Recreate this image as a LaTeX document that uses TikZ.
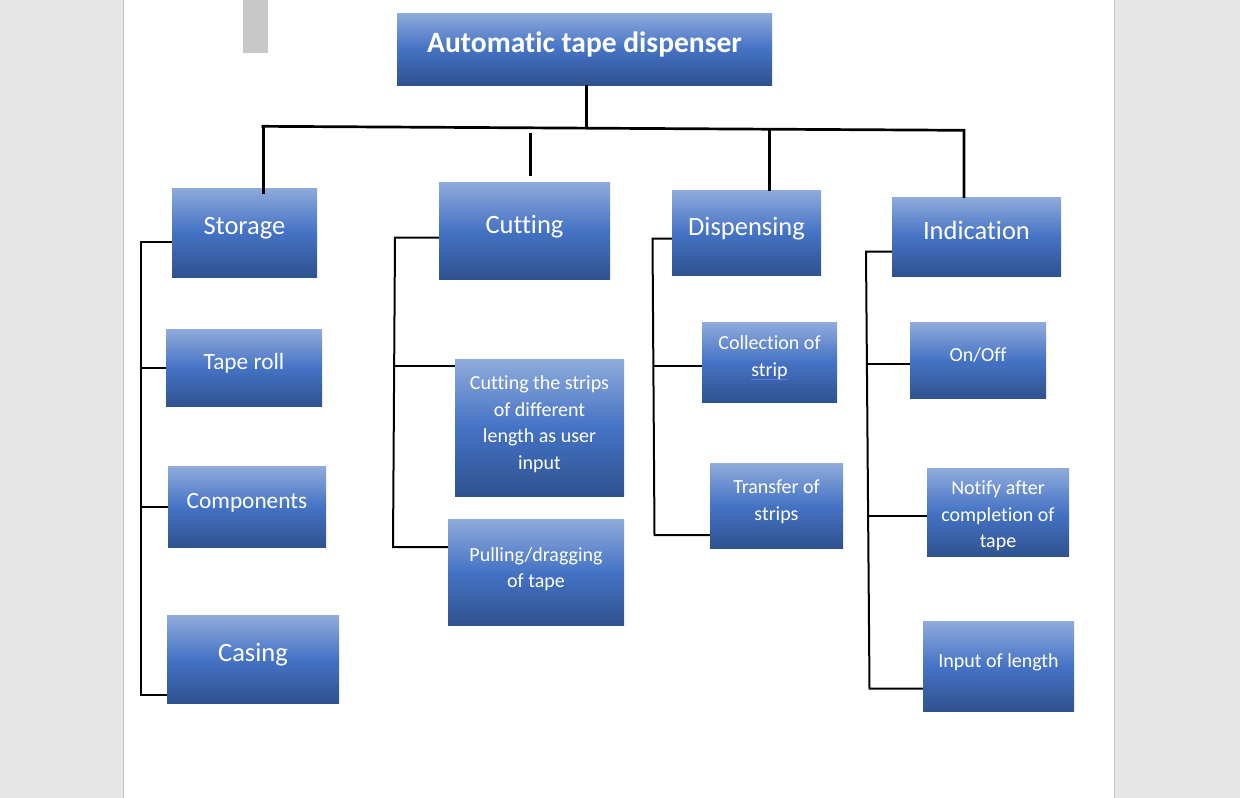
\documentclass[tikz,border=0pt]{standalone}
\usepackage{fontspec}
\setmainfont{Carlito}[Ligatures=NoCommon]

\definecolor{bleuHaut}{HTML}{8EAADB}
\definecolor{bleuMilieu}{HTML}{4472C4}
\definecolor{bleuBas}{HTML}{2F528F}
\definecolor{fondGris}{HTML}{E6E6E6}
\definecolor{bordGris}{HTML}{C6C6C6}
\definecolor{marqueGris}{HTML}{C8C8C8}
\definecolor{soulignBleu}{HTML}{5B7BE0}

\newcommand{\souligne}[1]{\setbox0\hbox{#1}\rlap{\color{soulignBleu}\rule[-3.5pt]{\wd0}{0.9pt}}\box0}

\tikzset{boite/.style 2 args = {minimum width = #1, minimum height = #2, inner sep = 0pt,
                                top color = bleuHaut, bottom color = bleuBas,
                                middle color = bleuMilieu},
         etiquette/.style = {anchor = north, inner sep = 0pt, align = center, text = white},
         titre/.style     = {etiquette, font = \bfseries\fontsize{29.5pt}{36pt}\selectfont},
         niveau1/.style   = {etiquette, font = \fontsize{26.5pt}{32.4pt}\selectfont},
         grand/.style     = {etiquette, font = \fontsize{23.3pt}{28.4pt}\selectfont},
         niveau2/.style   = {etiquette, font = \fontsize{20pt}{26.7pt}\selectfont},
         trait/.style     = {line width = #1},
         trait/.default   = 2.7pt
        }

\begin{document}
\begin{tikzpicture}[x=1pt, y=-1pt]
  \useasboundingbox (0,0) rectangle (1240,798);
  \fill[fondGris] (0,0) rectangle (1240,798);
  \fill[white] (123,0) rectangle (1115,798);
  \draw[bordGris, line width=1pt] (123.5,0) -- (123.5,798) (1114.5,0) -- (1114.5,798);
  \fill[marqueGris] (243,0) rectangle (268,52.7);

  \node[boite={375pt}{72pt}]     (tit) at (584.5,49)    {};
  \node[boite={145pt}{89pt}]     (sto) at (244.5,232.5) {};
  \node[boite={171pt}{96.7pt}]   (cut) at (524.5,231.3) {};
  \node[boite={149pt}{84.7pt}]   (dis) at (746.5,233.3) {};
  \node[boite={169pt}{78.7pt}]   (ind) at (976.5,237.3) {};
  \node[boite={156pt}{76.7pt}]   (tap) at (244,368.3)   {};
  \node[boite={158pt}{80.7pt}]   (com) at (247,507.3)   {};
  \node[boite={172pt}{87.7pt}]   (cas) at (253,659.8)   {};
  \node[boite={169pt}{136.7pt}]  (str) at (539.5,428.3) {};
  \node[boite={176pt}{105.7pt}]  (pul) at (536,572.8)   {};
  \node[boite={135pt}{79.7pt}]   (col) at (769.5,362.8) {};
  \node[boite={133pt}{84.7pt}]   (tra) at (776.5,506.3) {};
  \node[boite={136pt}{75.7pt}]   (onf) at (978,360.8)   {};
  \node[boite={142pt}{87.7pt}]   (not) at (998,512.8)   {};
  \node[boite={151pt}{89.7pt}]   (inp) at (998.5,666.8) {};

  \node[titre]   (tit-t) at (584.5,26.8)  {\strut Automatic tape dispenser};
  \node[niveau1] (sto-t) at (244.5,211.3) {\strut Storage};
  \node[niveau1] (cut-t) at (524.5,210.8) {\strut Cutting};
  \node[niveau1] (dis-t) at (746.5,212.3) {\strut Dispensing};
  \node[niveau1] (ind-t) at (976.5,216.6) {\strut Indication};
  \node[grand]   (tap-t) at (244,349.4)   {\strut Tape roll};
  \node[grand]   (com-t) at (247,488.1)   {\strut Components};
  \node[niveau1] (cas-t) at (253,638.6)   {\strut Casing};
  \node[niveau2] (str-t) at (539.5,370.6) {\strut Cutting the strips\\of different\\length as user\\input};
  \node[niveau2] (pul-t) at (536,542.3)   {\strut Pulling/dragging\\of tape};
  \node[niveau2] (col-t) at (769.5,330.6) {\strut Collection of\\\souligne{strip}};
  \node[niveau2] (tra-t) at (776.5,474.6) {\strut Transfer of\\strips};
  \node[niveau2] (onf-t) at (978,342.6)   {\strut On/Off};
  \node[niveau2] (not-t) at (998,475.6)   {\strut Notify after\\completion of\\tape};
  \node[niveau2] (inp-t) at (998.5,649)   {\strut Input of length};

  \coordinate (tronc) at (586.5,127.8);
  \coordinate (bus-g) at (261.5,126.3);
  \coordinate (bus-d) at (964,130.3);
  \coordinate (d-sto) at (263.3,127);
  \coordinate (d-cut) at (530.3,132.7);
  \coordinate (f-cut) at (530.3,176);
  \coordinate (d-dis) at (769.3,129.5);
  \draw[trait] (tronc |- tit.south) -- (tronc);
  \draw[trait] (bus-g) -- (bus-d) -- (bus-d |- ind.north);
  \draw[trait] (d-sto) -- ([yshift=-6pt]d-sto |- sto.north);
  \draw[trait] (d-cut) -- (f-cut);
  \draw[trait] (d-dis) -- (d-dis |- dis.north);

  \coordinate (s-haut) at (141,242);
  \coordinate (s-bas)  at (141,695);
  \draw[trait=2pt] (sto.west |- s-haut) -- (s-haut) -- (s-bas) -- (cas.west |- s-bas);
  \draw[trait=2pt] (s-haut |- tap.west) -- (tap.west);
  \draw[trait=2pt] (s-haut |- com.west) -- (com.west);

  \coordinate (c-haut) at (395,237.5);
  \coordinate (c-mil)  at (394,366);
  \coordinate (c-bas)  at (393,547);
  \draw[trait=2pt] (cut.west |- c-haut) -- (c-haut) -- (c-bas) -- (pul.west |- c-bas);
  \draw[trait=2pt] (c-mil) -- (str.west |- c-mil);

  \coordinate (p-haut) at (652.5,238.5);
  \coordinate (p-mil)  at (653.5,366);
  \coordinate (p-bas)  at (654.5,535);
  \draw[trait=2pt] (dis.west |- p-haut) -- (p-haut) -- (p-bas) -- (tra.west |- p-bas);
  \draw[trait=2pt] (p-mil) -- (col.west |- p-mil);

  \coordinate (i-haut) at (866,251.5);
  \coordinate (i-mil)  at (867,363.5);
  \coordinate (i-not)  at (868,515.5);
  \coordinate (i-bas)  at (869.5,688.5);
  \draw[trait=2pt] (ind.west |- i-haut) -- (i-haut) -- (i-bas) -- (inp.west |- i-bas);
  \draw[trait=2pt] (i-mil) -- (onf.west |- i-mil);
  \draw[trait=2pt] (i-not) -- (not.west |- i-not);
\end{tikzpicture}
\end{document}
